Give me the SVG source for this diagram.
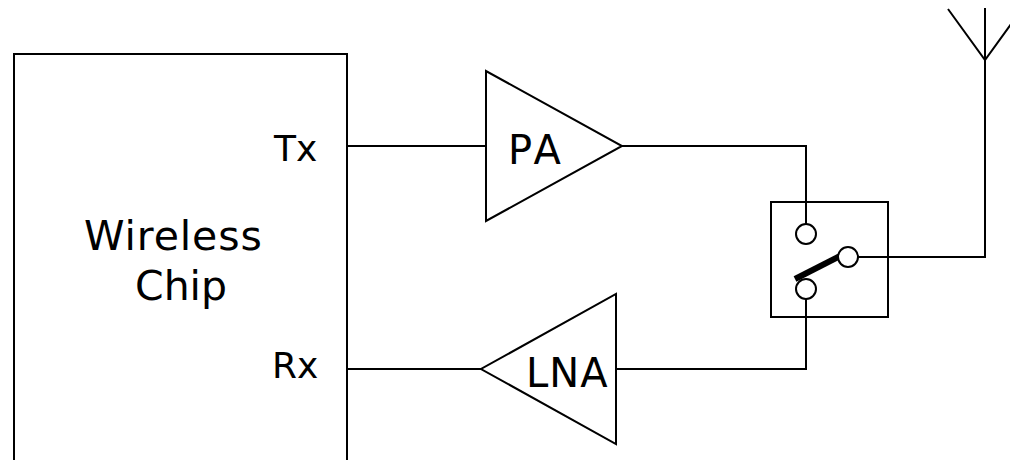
<svg xmlns="http://www.w3.org/2000/svg" width="1010" height="460" viewBox="0 0 1010 460">
<style>
.s{fill:none;stroke:#000;stroke-width:2}
.w{fill:#fff;stroke:#000;stroke-width:2}
text{font-family:"DejaVu Sans",Verdana,sans-serif;fill:#000}
.a{font-size:41px}
.b{font-size:36px}
.c{font-size:40px}
</style>
<rect width="1010" height="460" fill="#fff"/>
<g id="connectors">
<path class="s" d="M347 146H486"/>
<path class="s" d="M622 146H806V224"/>
<path class="s" d="M347 369H481"/>
<path class="s" d="M616 369H806V299"/>
<path class="s" d="M858 257H985V60"/>
<path d="M795 279L840 256" fill="none" stroke="#000" stroke-width="6"/>
</g>
<g id="chip"><path class="s" d="M14 460V54H347V460"/>
<text class="a" x="84" y="250" letter-spacing="0.9">Wireless</text>
<text class="a" x="135" y="300">Chip</text>
<text class="b" x="274" y="161">Tx</text>
<text class="b" x="272" y="378">Rx</text></g>
<g id="pa"><path class="s" d="M486 71V221L622 146Z"/><text class="c" x="508" y="164" letter-spacing="4">PA</text></g>
<g id="lna"><path class="s" d="M616 294V444L481 369Z"/><text class="c" x="526" y="387" letter-spacing="1">LNA</text></g>
<g id="switch"><rect class="s" x="771" y="202" width="117" height="115"/>
<circle class="w" cx="806" cy="234" r="10"/>
<circle class="w" cx="848" cy="257" r="10"/>
<circle class="w" cx="806" cy="289" r="10"/></g>
<g id="antenna"><path class="s" d="M948 9L985 60L1022 9M985 8V60"/></g>
</svg>
